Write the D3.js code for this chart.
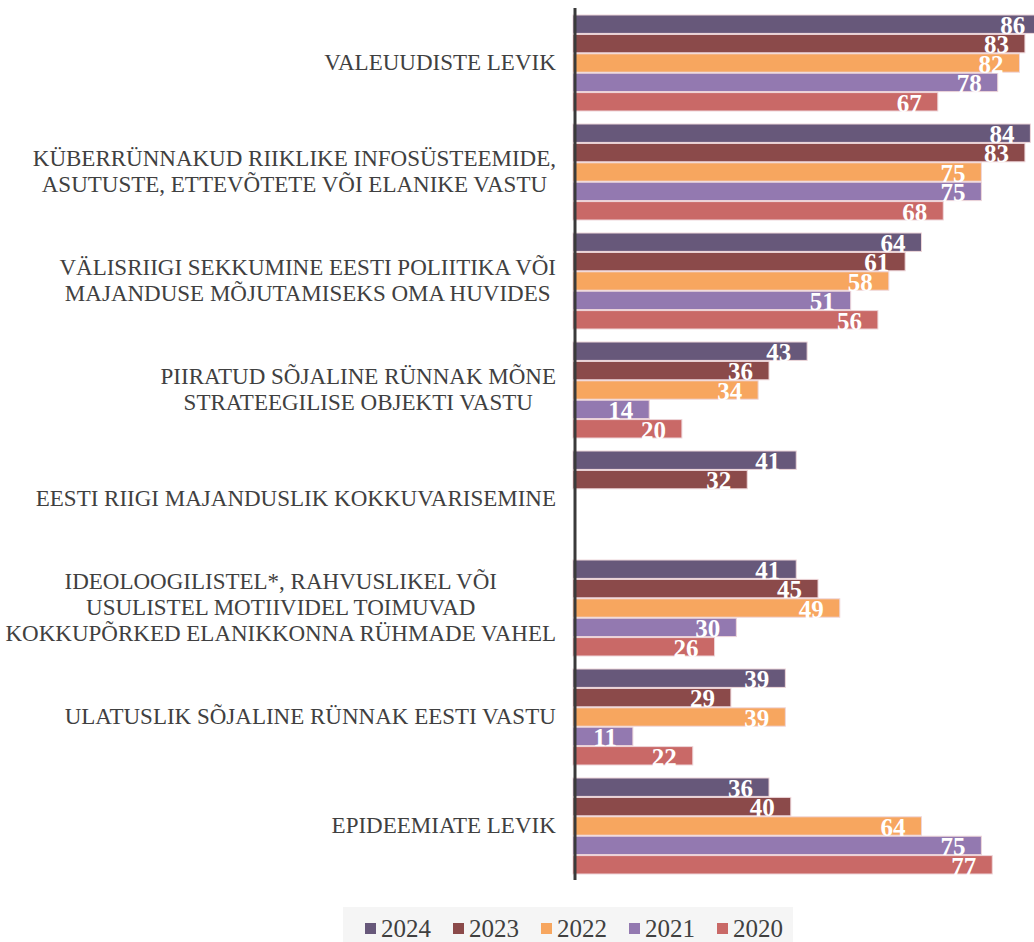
<!DOCTYPE html>
<html>
<head>
<meta charset="utf-8">
<script src="https://cdn.jsdelivr.net/npm/d3@7"></script>
<style>
  html, body { margin: 0; padding: 0; background: #fff; }
  svg { display: block; }
</style>
</head>
<body>
<svg id="chart" width="1034" height="942"></svg>
<script>
// data
var categories = [
  ["VALEUUDISTE LEVIK"],
  ["KÜBERRÜNNAKUD RIIKLIKE INFOSÜSTEEMIDE,", "ASUTUSTE, ETTEVÕTETE VÕI ELANIKE VASTU"],
  ["VÄLISRIIGI SEKKUMINE EESTI POLIITIKA VÕI", "MAJANDUSE MÕJUTAMISEKS OMA HUVIDES"],
  ["PIIRATUD SÕJALINE RÜNNAK MÕNE", "STRATEEGILISE OBJEKTI VASTU"],
  ["EESTI RIIGI MAJANDUSLIK KOKKUVARISEMINE"],
  ["IDEOLOOGILISTEL*, RAHVUSLIKEL VÕI", "USULISTEL MOTIIVIDEL TOIMUVAD", "KOKKUPÕRKED ELANIKKONNA RÜHMADE VAHEL"],
  ["ULATUSLIK SÕJALINE RÜNNAK EESTI VASTU"],
  ["EPIDEEMIATE LEVIK"]
];
var years = ["2024", "2023", "2022", "2021", "2020"];
var v2024 = [86, 84, 64, 43, 41, 41, 39, 36];
var v2023 = [83, 83, 61, 36, 32, 45, 29, 40];
var v2022 = [82, 75, 58, 34, null, 49, 39, 64];
var v2021 = [78, 75, 51, 14, null, 30, 11, 75];
var v2020 = [67, 68, 56, 20, null, 26, 22, 77];
var series = [v2024, v2023, v2022, v2021, v2020];
var colors = ["#67587a", "#8b4a4a", "#f7a65f", "#9379b0", "#c96967"];

// layout
var axisX = 575;
var plotTop = 15, groupStep = 109, barBlock = 97;
var serif = "'Liberation Serif', 'Times New Roman', serif";

var svg = d3.select("#chart");

var y0 = d3.scaleBand()
  .domain(d3.range(categories.length))
  .range([plotTop, plotTop + groupStep * categories.length])
  .paddingInner(0).paddingOuter(0);

var y1 = d3.scaleBand()
  .domain(years)
  .range([0, barBlock]);

var x = d3.scaleLinear()
  .domain([0, 86])
  .range([573, 573 + 86 * 5.445]);

var color = d3.scaleOrdinal().domain(years).range(colors);

// bars
var groups = svg.append("g").selectAll("g")
  .data(d3.range(categories.length))
  .join("g")
  .attr("transform", function (i) { return "translate(0," + y0(i) + ")"; });

groups.each(function (i) {
  var g = d3.select(this);
  var rows = years.map(function (yr, k) { return { year: yr, value: series[k][i] }; })
    .filter(function (d) { return d.value != null; });

  g.selectAll("rect")
    .data(rows)
    .join("rect")
    .attr("x", x(0))
    .attr("y", function (d) { return y1(d.year); })
    .attr("width", function (d) { return x(d.value) - x(0); })
    .attr("height", y1.bandwidth() - 1)
    .attr("fill", function (d) { return color(d.year); })
    .attr("stroke", "#eed6da")
    .attr("stroke-width", 1);

  g.selectAll("text")
    .data(rows)
    .join("text")
    .attr("x", function (d) { return x(d.value) - 16; })
    .attr("y", function (d) { return y1(d.year) + y1.bandwidth() - 0.5; })
    .attr("text-anchor", "end")
    .attr("fill", "#fff")
    .attr("font-family", serif)
    .attr("font-weight", "bold")
    .attr("font-size", "25px")
    .text(function (d) { return d.value; });
});

// category labels: lines centred in a block, block right-aligned
var labels = svg.append("g").selectAll("g")
  .data(categories)
  .join("g");

labels.each(function (lines, i) {
  var g = d3.select(this);
  var lh = 26;
  var t = g.append("text")
    .attr("font-family", serif)
    .attr("font-size", "23px")
    .attr("fill", "#404040")
    .attr("text-anchor", "middle");
  lines.forEach(function (ln, k) {
    t.append("tspan")
      .attr("x", 0)
      .attr("y", (k - (lines.length - 1) / 2) * lh)
      .attr("dy", "0.33em")
      .text(ln);
  });
  var w = t.node().getBBox().width;
  var cy = y0(i) + barBlock / 2 - 1;
  g.attr("transform", "translate(" + (556 - w / 2) + "," + cy + ")");
});

// axis line
svg.append("line")
  .attr("x1", axisX).attr("x2", axisX)
  .attr("y1", 8).attr("y2", 880)
  .attr("stroke", "#3a3a3a")
  .attr("stroke-width", 3);

// legend
var legend = svg.append("g");
legend.append("rect")
  .attr("x", 343).attr("y", 907)
  .attr("width", 450).attr("height", 35)
  .attr("fill", "#f5f5f5");

var lx = d3.scaleBand().domain(years).range([365, 365 + 88 * 5]);

var items = legend.selectAll("g.item")
  .data(years)
  .join("g")
  .attr("class", "item")
  .attr("transform", function (d) { return "translate(" + lx(d) + ",928)"; });

items.append("rect")
  .attr("x", 0).attr("y", -5)
  .attr("width", 11).attr("height", 11)
  .attr("fill", function (d) { return color(d); });

items.append("text")
  .attr("x", 16)
  .attr("y", 9)
  .attr("font-family", serif)
  .attr("font-size", "25px")
  .attr("fill", "#404040")
  .text(function (d) { return d; });
</script>
</body>
</html>
